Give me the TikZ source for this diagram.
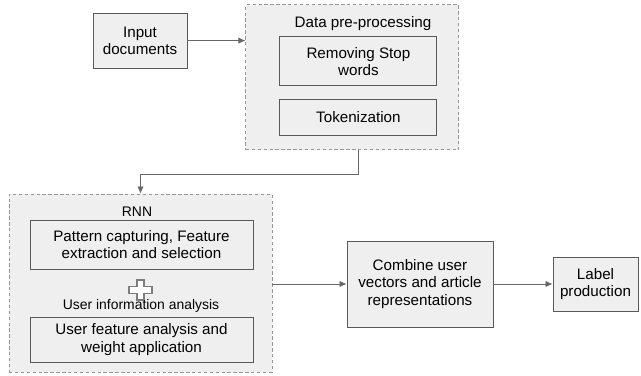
\documentclass[tikz,border=0pt]{standalone}
\usepackage{fontspec}
\setmainfont{Liberation Sans}
\usetikzlibrary{positioning, arrows.meta, calc}

\definecolor{boxfill}{RGB}{239,239,239}
\definecolor{boxline}{RGB}{89,89,89}
\definecolor{groupline}{RGB}{150,150,150}
\definecolor{arrowgray}{RGB}{102,102,102}
\definecolor{plusline}{RGB}{125,125,125}

\begin{document}
\begin{tikzpicture}[
    box/.style={draw=boxline, fill=boxfill, line width=0.6pt, align=center, inner sep=0pt,
        font=\fontsize{10.8}{12.3}\selectfont},
    group/.style={draw=groupline, fill=boxfill, line width=0.6pt, dash pattern=on 2.4pt off 1.8pt, inner sep=0pt},
    grouplabel/.style={font=\fontsize{10.8}{12.3}\selectfont},
    smalllabel/.style={font=\fontsize{9.9}{12}\selectfont},
    arr/.style={draw=arrowgray, line width=0.6pt, -{Latex[length=5pt, width=4.5pt]}}]
        \useasboundingbox (0,0) rectangle (16.025,9.375);
        % top row
        \node[box, minimum width=2.35cm, minimum height=1.375cm] (in) at (3.5,8.36) {Input\\documents};
        \node[group, minimum width=5.325cm, minimum height=3.625cm] (pre) at (8.81,7.44) {};
        \node[grouplabel] (prelbl) at (9.075,8.775) {Data pre-processing};
        \node[box, minimum width=3.925cm, minimum height=1.225cm] (rem) at (8.96,7.84) {Removing Stop\\words};
        \node[box, minimum width=3.925cm, minimum height=0.9cm] (tok) at (8.96,6.45) {Tokenization};
        % RNN block
        \node[group, minimum width=6.575cm, minimum height=4.45cm] (rnn) at (3.5125,2.3) {};
        \node[smalllabel] (rnnlbl) at (3.425,4.075) {RNN};
        \node[box, minimum width=5.575cm, minimum height=1.225cm] (pat) at (3.5375,3.2625) {Pattern capturing, Feature\\extraction and selection};
        \coordinate (plus) at (3.5125,2.125);
        \draw[draw=plusline, fill=white, line width=0.75pt]
            ($(plus)+(-0.0875,0.25)$) -- ++(0.175,0) -- ++(0,-0.1625) -- ++(0.2,0) -- ++(0,-0.175)
            -- ++(-0.2,0) -- ++(0,-0.1625) -- ++(-0.175,0) -- ++(0,0.1625) -- ++(-0.2,0)
            -- ++(0,0.175) -- ++(0.2,0) -- cycle;
        \node[smalllabel] (uinfo) at (3.525,1.725) {User information analysis};
        \node[box, minimum width=5.575cm, minimum height=1.125cm] (usr) at (3.5375,0.8875) {User feature analysis and\\weight application};
        % output side
        \node[box, minimum width=3.65cm, minimum height=2.15cm] (comb) at (10.5,2.275) {Combine user\\vectors and article\\representations};
        \node[box, minimum width=2.125cm, minimum height=1.35cm] (lab) at (14.8875,2.275) {Label\\production};
        % connectors
        \draw[arr] (in.east) -- (in.east -| pre.west);
        \draw[arr] (rem.south |- pre.south) -- ++(0,-0.6) -| (rnn.north);
        \draw[arr] (rnn.east |- comb.west) -- (comb.west);
        \draw[arr] (comb.east) -- (lab.west);
\end{tikzpicture}
\end{document}
